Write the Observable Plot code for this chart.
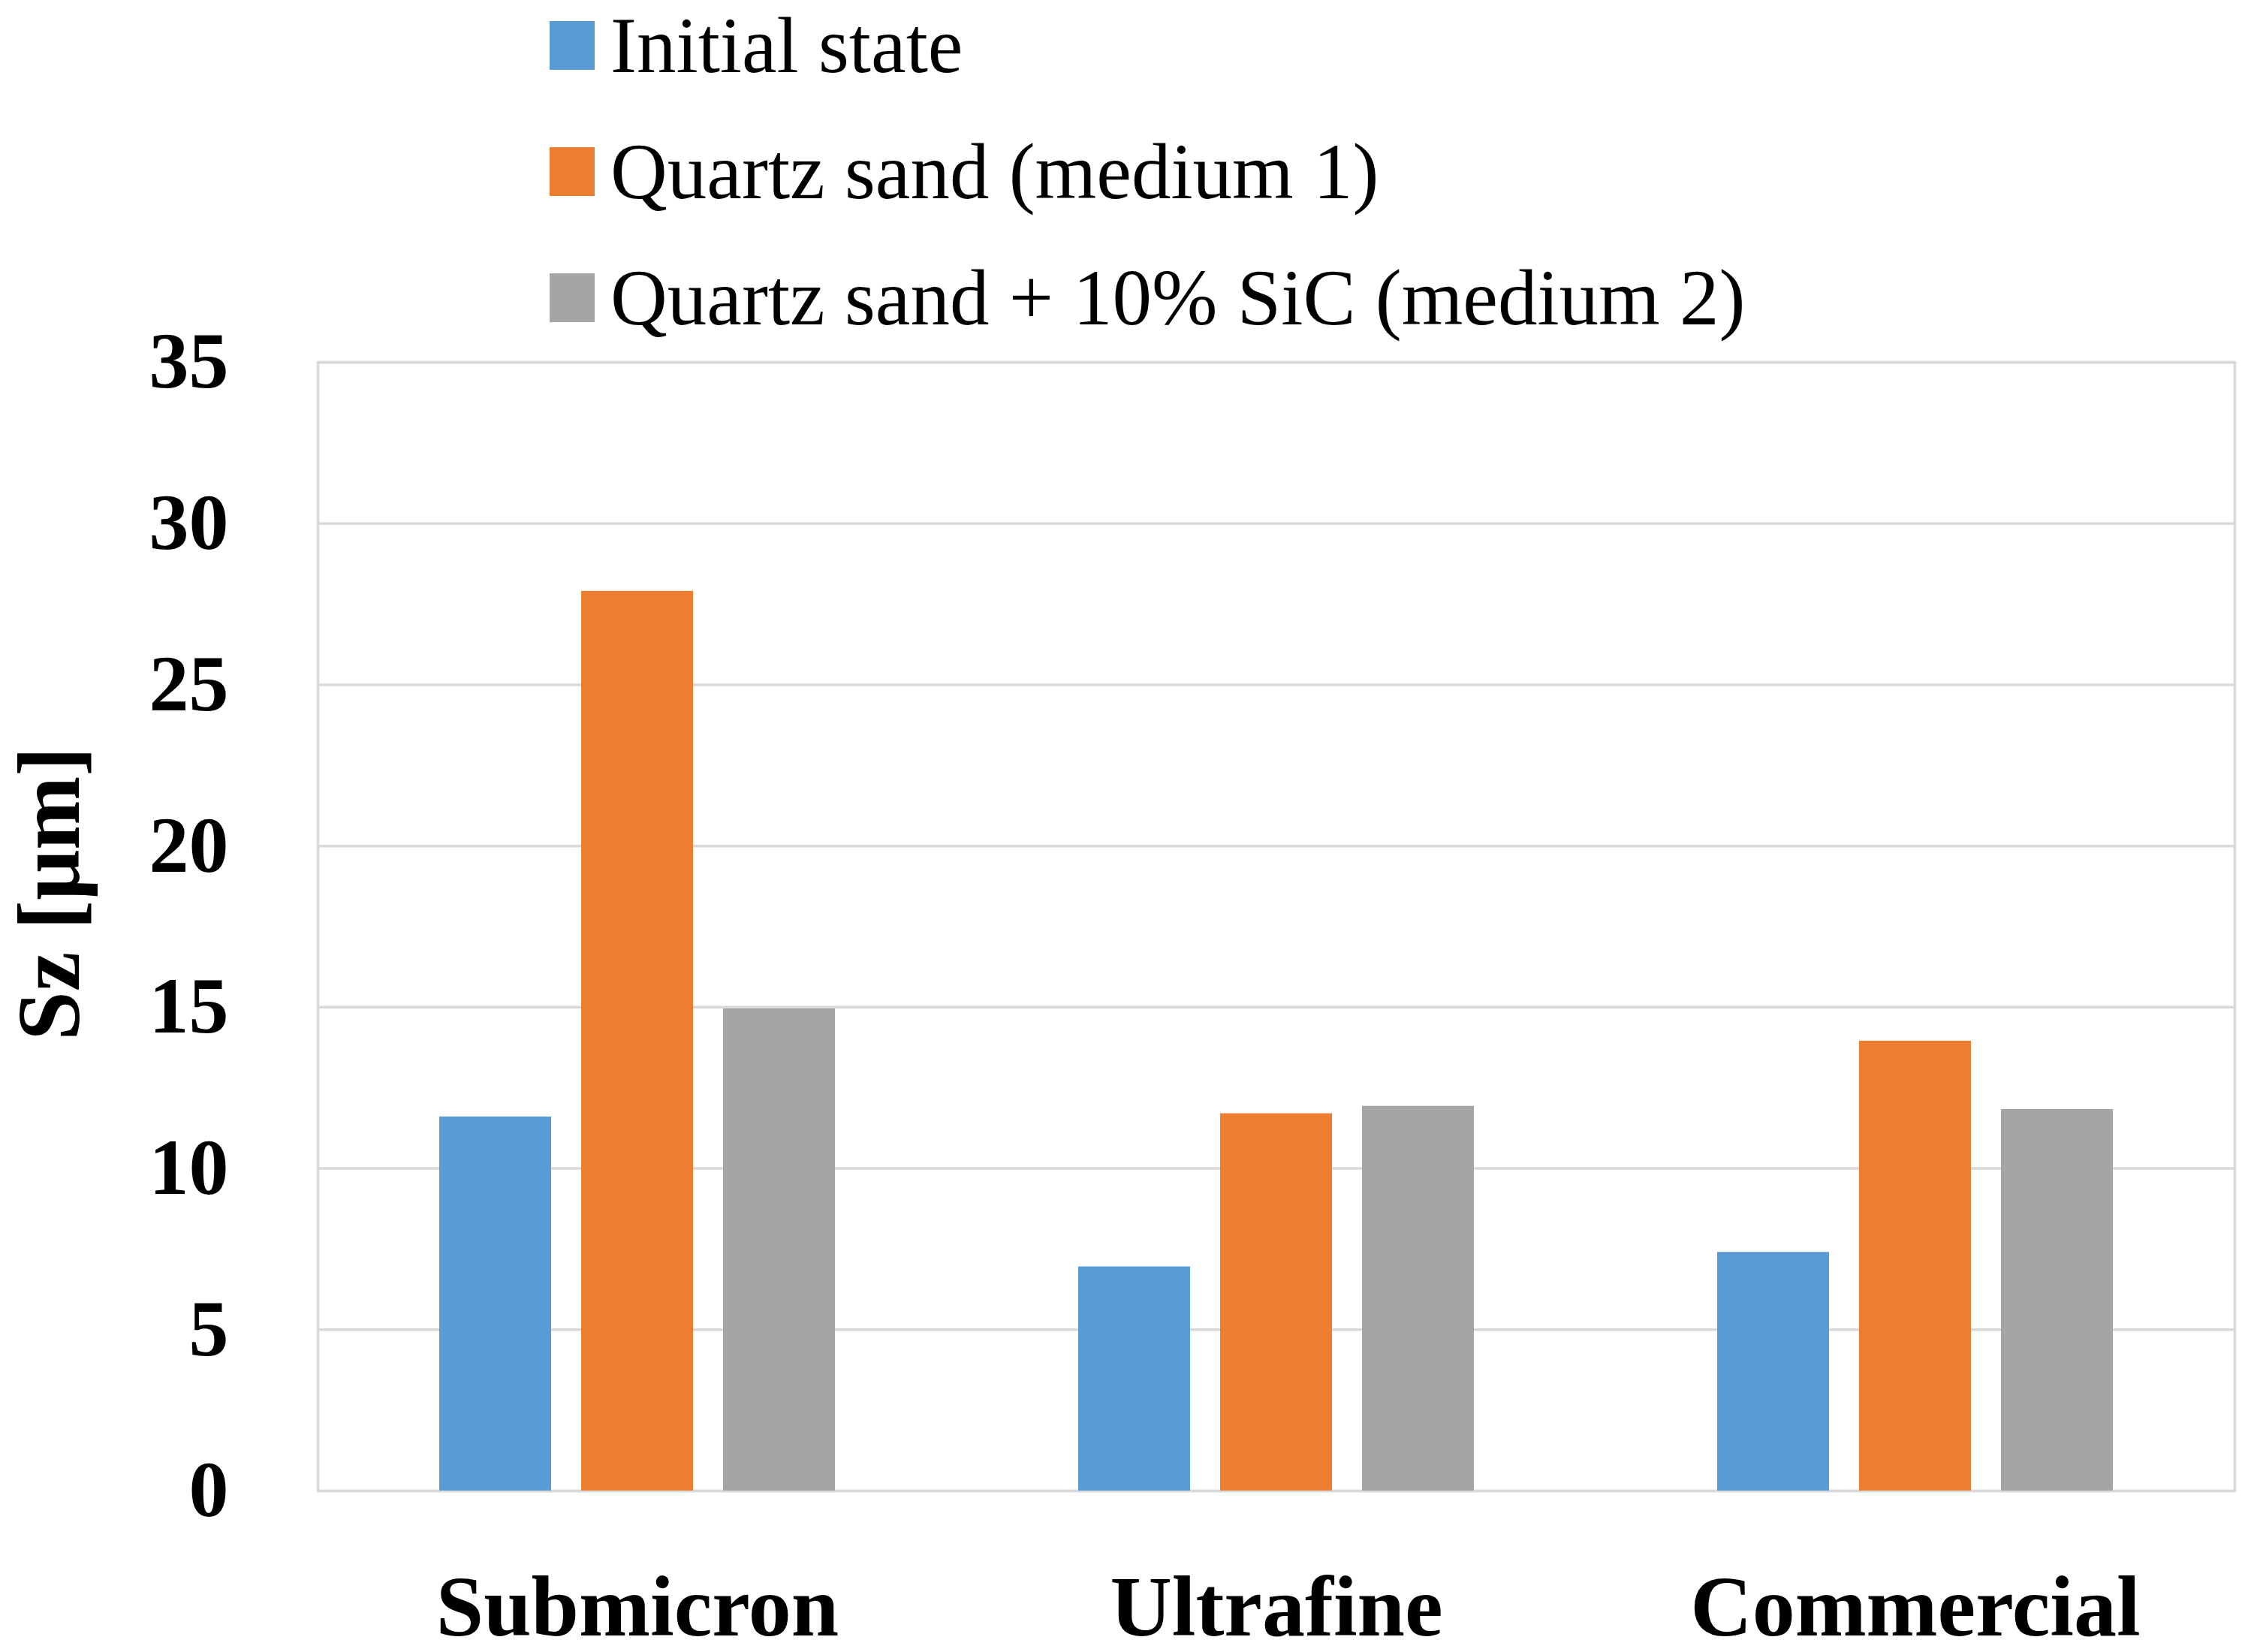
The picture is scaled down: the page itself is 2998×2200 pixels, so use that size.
<!DOCTYPE html>
<html><head><meta charset="utf-8">
<script src="https://cdn.jsdelivr.net/npm/d3@7"></script>
<script src="https://cdn.jsdelivr.net/npm/@observablehq/plot@0.6"></script>
<style>
html,body{margin:0;padding:0;background:#fff;}
#legend{position:relative;height:400px;width:2998px;font-family:"Liberation Serif",serif;font-size:105px;color:#000;}
.row{position:absolute;left:732px;display:flex;align-items:center;height:65px;line-height:1;white-space:nowrap;}
.sw{width:60px;height:65px;margin-right:21px;flex:none;}
#chart svg{display:block;}
</style></head><body>
<div id="legend"></div>
<div id="chart"></div>
<script>
const categories = ["Submicron", "Ultrafine", "Commercial"];
const series = ["Initial state", "Quartz sand (medium 1)", "Quartz sand + 10% SiC (medium 2)"];
const initialState = [11.6, 6.95, 7.4];
const medium1 = [27.9, 11.7, 13.95];
const medium2 = [14.95, 11.93, 11.83];
const colors = ["#5b9bd5", "#ed7d31", "#a5a5a5"];
const yTicks = [0, 5, 10, 15, 20, 25, 30, 35];
const yLabel = "Sz [μm]";

const seriesValues = [initialState, medium1, medium2];
const data = categories.flatMap((c, i) =>
  seriesValues.map((arr, j) => ({category: c, series: series[j], value: arr[i]}))
);

// legend
const legend = document.getElementById("legend");
series.forEach((s, j) => {
  const row = document.createElement("div");
  row.className = "row";
  row.style.top = (28 + j * 168) + "px";
  const sw = document.createElement("span");
  sw.className = "sw";
  sw.style.background = colors[j];
  const tx = document.createElement("span");
  tx.textContent = s;
  row.appendChild(sw);
  row.appendChild(tx);
  legend.appendChild(row);
});

const chart = Plot.plot({
  width: 2998,
  height: 1800,
  marginTop: 82,
  marginBottom: 215,
  marginLeft: 422,
  marginRight: 21,
  style: {fontFamily: "'Liberation Serif', serif", background: "#fff", color: "#000", overflow: "visible"},
  fx: {domain: categories, padding: 0, label: null},
  x: {domain: series, paddingInner: 0.2105, paddingOuter: 0.847, axis: null},
  y: {domain: [0, 35]},
  color: {domain: series, range: colors},
  marks: [
    Plot.gridY(yTicks, {stroke: "#d9d9d9", strokeOpacity: 1, strokeWidth: 3.5}),
    Plot.frame({facet: "super", stroke: "#d9d9d9", strokeWidth: 3.5}),
    Plot.barY(data, {fx: "category", x: "series", y: "value", fill: "series"}),
    Plot.axisY(yTicks, {tickSize: 0, tickPadding: 119, fontSize: 106, fontWeight: "bold", label: null}),
    Plot.text([yLabel], {facet: "super", text: d => d, frameAnchor: "left", rotate: -90,
      lineAnchor: "top", textAnchor: "middle",
      dx: -402, dy: -44, fontSize: 118, fontWeight: "bold"}),
    Plot.axisFx({anchor: "bottom", tickSize: 0, tickPadding: 112, fontSize: 114, fontWeight: "bold", label: null})
  ]
});
document.getElementById("chart").appendChild(chart);
</script>
</body></html>
